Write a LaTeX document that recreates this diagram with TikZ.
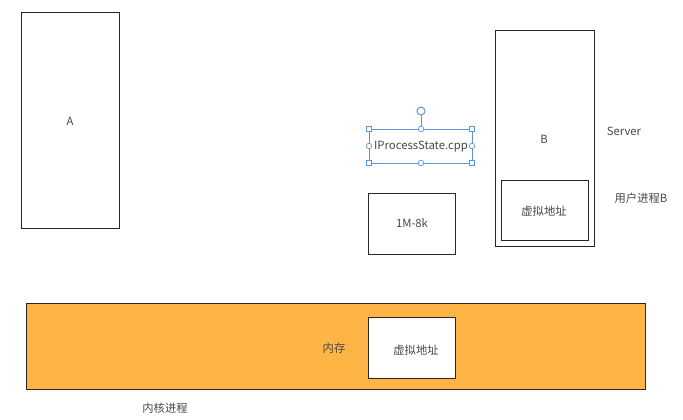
\documentclass[tikz,border=0pt]{standalone}
\usepackage{fontspec}
\setmainfont{Noto Sans CJK SC}
\begin{document}
\begin{tikzpicture}[x=1pt,y=-1pt,
  box/.style={draw=black!85,line width=0.9pt},
  lbl/.style={text=black!72,font=\fontsize{11.3}{13}\selectfont,inner sep=0pt},
  hsq/.style={draw=handleblue,fill=white,line width=0.7pt,minimum size=5pt,inner sep=0pt,rectangle},
  hci/.style={draw=handleblue,fill=white,line width=0.7pt,minimum size=5.5pt,inner sep=0pt,circle}]
\definecolor{memorange}{RGB}{255,180,70}
\definecolor{handleblue}{RGB}{90,150,220}
\useasboundingbox (0,0) rectangle (683,420);
% A
\draw[box] (21,12) rectangle (119,228);
\node[lbl] (A) at (70,121) {A};
% B
\draw[box] (495,30) rectangle (594,246);
\node[lbl] (B) at (544,139) {B};
\draw[box] (501,180) rectangle (588,240);
\node[lbl] (vb) at (544,211) {虚拟地址};
\node[lbl] (server) at (624,131) {Server};
\node[lbl] (userb) at (641,198) {用户进程B};
% 1M-8k
\draw[box] (368,193) rectangle (455,254);
\node[lbl] (m8k) at (412,223) {1M-8k};
% IProcessState.cpp with selection handles
\node[lbl] (ips) at (421,147) {IProcessState.cpp};
\draw[handleblue,line width=0.7pt] (369,129) rectangle (472,163);
\coordinate (rot) at (421,111);
\coordinate (tm) at (421,129);
\draw[handleblue,line width=0.9pt] (rot) -- (tm);
\node[hci,minimum size=8pt,line width=1pt] (rh) at (rot) {};
\node[hsq] (h1) at (369,129) {};
\node[hsq] (h2) at (472,129) {};
\node[hsq] (h3) at (369,163) {};
\node[hsq] (h4) at (472,163) {};
\node[hci] (h5) at (421,129) {};
\node[hci] (h6) at (421,163) {};
\node[hci] (h7) at (369,146) {};
\node[hci] (h8) at (472,146) {};
% memory
\draw[box,fill=memorange] (26,303) rectangle (645,389);
\draw[box,fill=white] (368,317) rectangle (455,378);
\node[lbl] (mem) at (334,348) {内存};
\node[lbl] (vm) at (416,350) {虚拟地址};
\node[lbl] (kern) at (165,408) {内核进程};
\end{tikzpicture}
\end{document}
